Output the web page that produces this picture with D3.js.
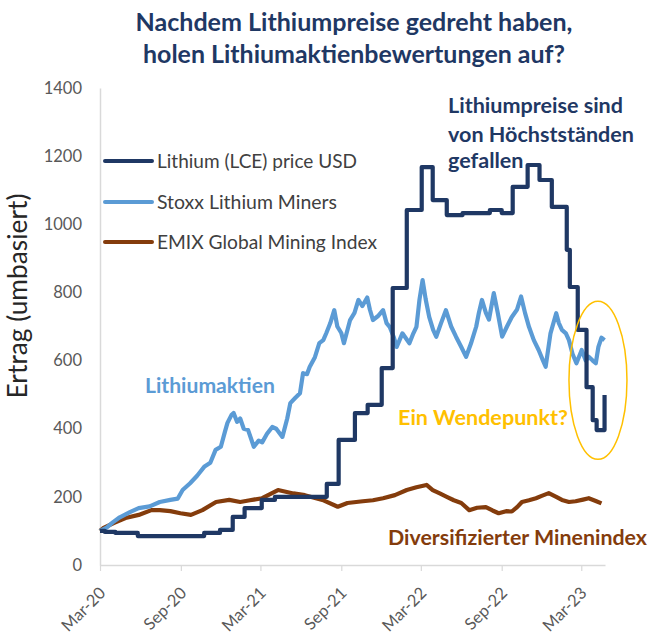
<!DOCTYPE html>
<html><head><meta charset="utf-8">
<script src="https://cdn.jsdelivr.net/npm/d3@7"></script>
<style>body{margin:0;background:#fff}svg{display:block}</style>
</head><body>
<svg id="c" width="653" height="641"></svg>
<script>
// ---------- data ----------
const titleLines = ["Nachdem Lithiumpreise gedreht haben,", "holen Lithiumaktienbewertungen auf?"];
const yAxisLabel = "Ertrag (umbasiert)";
const yTicks = [0, 200, 400, 600, 800, 1000, 1200, 1400];
const xTickDates = ["2020-03-01","2020-09-01","2021-03-01","2021-09-01","2022-03-01","2022-09-01","2023-03-01"];
const xTickLabels = ["Mar-20","Sep-20","Mar-21","Sep-21","Mar-22","Sep-22","Mar-23"];
const seriesNames = ["Lithium (LCE) price USD", "Stoxx Lithium Miners", "EMIX Global Mining Index"];
const seriesColors = ["#1F3864", "#5B9BD5", "#843C0C"];

const lithiumDates = ["2020-03-01","2020-03-12","2020-04-05","2020-05-26","2020-10-24","2020-11-29","2020-12-28","2021-01-24","2021-03-04","2021-04-03","2021-05-23","2021-07-30","2021-08-26","2021-10-02","2021-10-31","2021-12-02","2021-12-27","2022-01-28","2022-03-03","2022-03-28","2022-04-29","2022-06-04","2022-08-05","2022-09-01","2022-09-26","2022-10-30","2022-11-26","2022-12-24","2023-01-27","2023-02-03","2023-02-21","2023-03-13","2023-03-27","2023-04-05","2023-04-23"];
const lithiumValues = [100,97,94,85,94,103,141,167,191,200,200,238,367,446,470,578,813,1042,1168,1071,1027,1033,1042,1033,1110,1174,1130,1051,925,816,690,522,425,396,499];

const stoxxDates = ["2020-03-01","2020-03-16","2020-03-30","2020-04-15","2020-05-08","2020-05-28","2020-06-22","2020-07-15","2020-08-08","2020-08-25","2020-09-05","2020-09-22","2020-10-08","2020-10-24","2020-11-07","2020-11-19","2020-12-01","2020-12-10","2020-12-16","2020-12-25","2020-12-30","2021-01-07","2021-01-14","2021-01-22","2021-02-01","2021-02-14","2021-02-25","2021-03-05","2021-03-16","2021-03-28","2021-04-06","2021-04-20","2021-05-01","2021-05-08","2021-05-19","2021-05-30","2021-06-06","2021-06-15","2021-06-21","2021-07-03","2021-07-13","2021-07-22","2021-07-29","2021-08-07","2021-08-16","2021-08-23","2021-09-01","2021-09-07","2021-09-21","2021-10-01","2021-10-10","2021-10-19","2021-10-30","2021-11-05","2021-11-12","2021-11-23","2021-12-05","2021-12-13","2021-12-20","2021-12-29","2022-01-05","2022-01-18","2022-02-03","2022-02-12","2022-02-19","2022-02-26","2022-03-05","2022-03-12","2022-03-20","2022-03-29","2022-04-05","2022-04-16","2022-04-27","2022-05-09","2022-05-20","2022-06-01","2022-06-12","2022-06-23","2022-07-05","2022-07-11","2022-07-18","2022-07-27","2022-08-03","2022-08-14","2022-08-23","2022-09-02","2022-09-13","2022-09-24","2022-10-06","2022-10-15","2022-10-24","2022-11-02","2022-11-13","2022-11-24","2022-12-04","2022-12-10","2022-12-21","2023-01-03","2023-01-09","2023-01-16","2023-01-25","2023-02-01","2023-02-09","2023-02-18","2023-03-02","2023-03-11","2023-03-18","2023-03-27","2023-04-03","2023-04-09","2023-04-16","2023-04-23"];
const stoxxValues = [100,110,125,140,155,167,172,185,191,195,220,240,262,288,300,338,347,390,417,440,446,420,430,400,396,347,365,360,385,405,400,376,430,475,490,504,563,560,581,610,651,660,681,710,748,700,681,651,719,740,778,760,785,750,719,730,748,710,699,670,640,680,651,680,699,780,836,780,728,690,670,710,748,700,670,640,611,650,700,740,778,740,720,798,740,670,700,728,750,788,740,699,660,631,600,582,680,739,710,690,680,660,620,592,631,600,611,600,592,640,667,660];

const emixDates = ["2020-03-01","2020-03-08","2020-04-01","2020-04-28","2020-05-28","2020-06-26","2020-07-15","2020-08-08","2020-08-31","2020-09-24","2020-10-20","2020-11-20","2020-12-20","2021-01-14","2021-02-05","2021-03-05","2021-04-10","2021-05-15","2021-06-10","2021-07-20","2021-08-24","2021-09-15","2021-10-20","2021-11-12","2021-12-05","2022-01-01","2022-01-28","2022-02-19","2022-03-14","2022-03-28","2022-04-13","2022-04-29","2022-05-15","2022-06-01","2022-06-19","2022-07-07","2022-07-27","2022-08-11","2022-08-25","2022-09-11","2022-09-24","2022-10-06","2022-10-17","2022-11-02","2022-11-18","2022-12-01","2022-12-17","2023-01-03","2023-01-16","2023-02-01","2023-02-16","2023-03-05","2023-03-18","2023-04-03","2023-04-16"];
const emixValues = [100,108,123,138,147,161,161,158,152,147,161,185,191,185,190,196,220,210,205,191,171,182,187,190,196,205,220,228,235,220,210,200,190,182,161,168,170,160,152,158,157,170,185,190,196,203,211,200,191,185,187,192,196,188,181];

const annotations = [
  {lines:["Lithiumpreise sind","von Höchstständen","gefallen"], color:"#1F3864"},
  {lines:["Lithiumaktien"], color:"#5B9BD5"},
  {lines:["Ein Wendepunkt?"], color:"#FFC000"},
  {lines:["Diversifizierter Minenindex"], color:"#843C0C"}
];

// ---------- chart ----------
const FONT = "Lato, 'Open Sans', sans-serif";
const svg = d3.select("#c");
const parse = d3.timeParse("%Y-%m-%d");
const x = d3.scaleTime().domain([parse("2020-03-01"), parse("2023-04-24")]).range([100, 605]);
const y = d3.scaleLinear().domain([0, 1400]).range([565, 88]);

function fit(sel, w) {
  const n = sel.node();
  const fs = parseFloat(sel.attr("font-size"));
  const cw = n.getComputedTextLength();
  sel.attr("font-size", (fs * w / cw).toFixed(2));
  return sel;
}

// title
const titleW = [437, 422], titleY = [31, 63];
titleLines.forEach((t, i) => {
  fit(svg.append("text").attr("x", 354).attr("y", titleY[i]).attr("text-anchor", "middle")
    .attr("font-family", FONT).attr("font-weight", "bold").attr("font-size", 20)
    .attr("fill", "#1F3864").text(t), titleW[i]);
});

// y axis label
fit(svg.append("text").attr("transform", "translate(27,296) rotate(-90)").attr("text-anchor", "middle")
  .attr("font-family", FONT).attr("font-size", 18).attr("fill", "#262626").text(yAxisLabel), 205);

// y axis
const gy = svg.append("g").attr("transform", "translate(100,0)")
  .call(d3.axisLeft(y).tickValues(yTicks).tickSize(0).tickPadding(18).tickFormat(d3.format("d")));
gy.select(".domain").attr("stroke", "#D9D9D9").attr("stroke-width", 1.5);
gy.selectAll("text").attr("font-family", FONT).attr("font-size", 16.5).attr("fill", "#595959");

// x axis
const gx = svg.append("g").attr("transform", "translate(0,565)")
  .call(d3.axisBottom(x).tickValues(xTickDates.map(parse)).tickSize(6).tickSizeOuter(0)
    .tickFormat((d, i) => xTickLabels[i]));
gx.select(".domain").attr("stroke", "#D9D9D9").attr("stroke-width", 1.5);
gx.selectAll(".tick line").attr("stroke", "#D9D9D9").attr("stroke-width", 1.2);
gx.selectAll("text").attr("font-family", FONT).attr("font-size", 16.5).attr("fill", "#595959")
  .attr("text-anchor", "end").attr("transform", "translate(2,25) rotate(-45)").attr("dy", "0.35em").attr("y", 0);

// lines
const mk = (ds, vs) => ds.map((d, i) => ({date: parse(d), v: vs[i]}));
const data = [mk(lithiumDates, lithiumValues), mk(stoxxDates, stoxxValues), mk(emixDates, emixValues)];
const curves = [d3.curveStepAfter, d3.curveLinear, d3.curveLinear];
[2, 1, 0].forEach(i => {
  svg.append("path").datum(data[i])
    .attr("d", d3.line().x(d => x(d.date)).y(d => y(d.v)).curve(curves[i]))
    .attr("fill", "none").attr("stroke", seriesColors[i]).attr("stroke-width", 4.2)
    .attr("stroke-linejoin", "round").attr("stroke-linecap", "butt");
});

// legend
const legY = [161, 202, 242], legW = [200, 180, 220];
seriesNames.forEach((n, i) => {
  svg.append("line").attr("x1", 105).attr("x2", 152).attr("y1", legY[i]).attr("y2", legY[i])
    .attr("stroke", seriesColors[i]).attr("stroke-width", 4).attr("stroke-linecap", "round");
  fit(svg.append("text").attr("x", 157).attr("y", legY[i]).attr("dy", "0.35em")
    .attr("font-family", FONT).attr("font-size", 16).attr("fill", "#404040").text(n), legW[i]);
});

// annotations
const annPos = [
  {x: 448, y: [113, 142, 168], w: [175, 182, 72]},
  {x: 145, y: [393], w: [130]},
  {x: 398, y: [425], w: [170]},
  {x: 388, y: [545], w: [259]}
];
annotations.forEach((a, k) => {
  const p = annPos[k];
  let fs = null;
  a.lines.forEach((t, i) => {
    const s = svg.append("text").attr("x", p.x).attr("y", p.y[i]).attr("font-family", FONT)
      .attr("font-weight", "bold").attr("font-size", 18).attr("fill", a.color).text(t);
    if (i === 0) { fit(s, p.w[0]); fs = s.attr("font-size"); } else s.attr("font-size", fs);
  });
});

// ellipse highlight
svg.append("ellipse").attr("cx", x(parse("2023-04-08"))).attr("cy", y(542)).attr("rx", 29).attr("ry", 79)
  .attr("fill", "none").attr("stroke", "#FFC000").attr("stroke-width", 1.5);
</script>
</body></html>
